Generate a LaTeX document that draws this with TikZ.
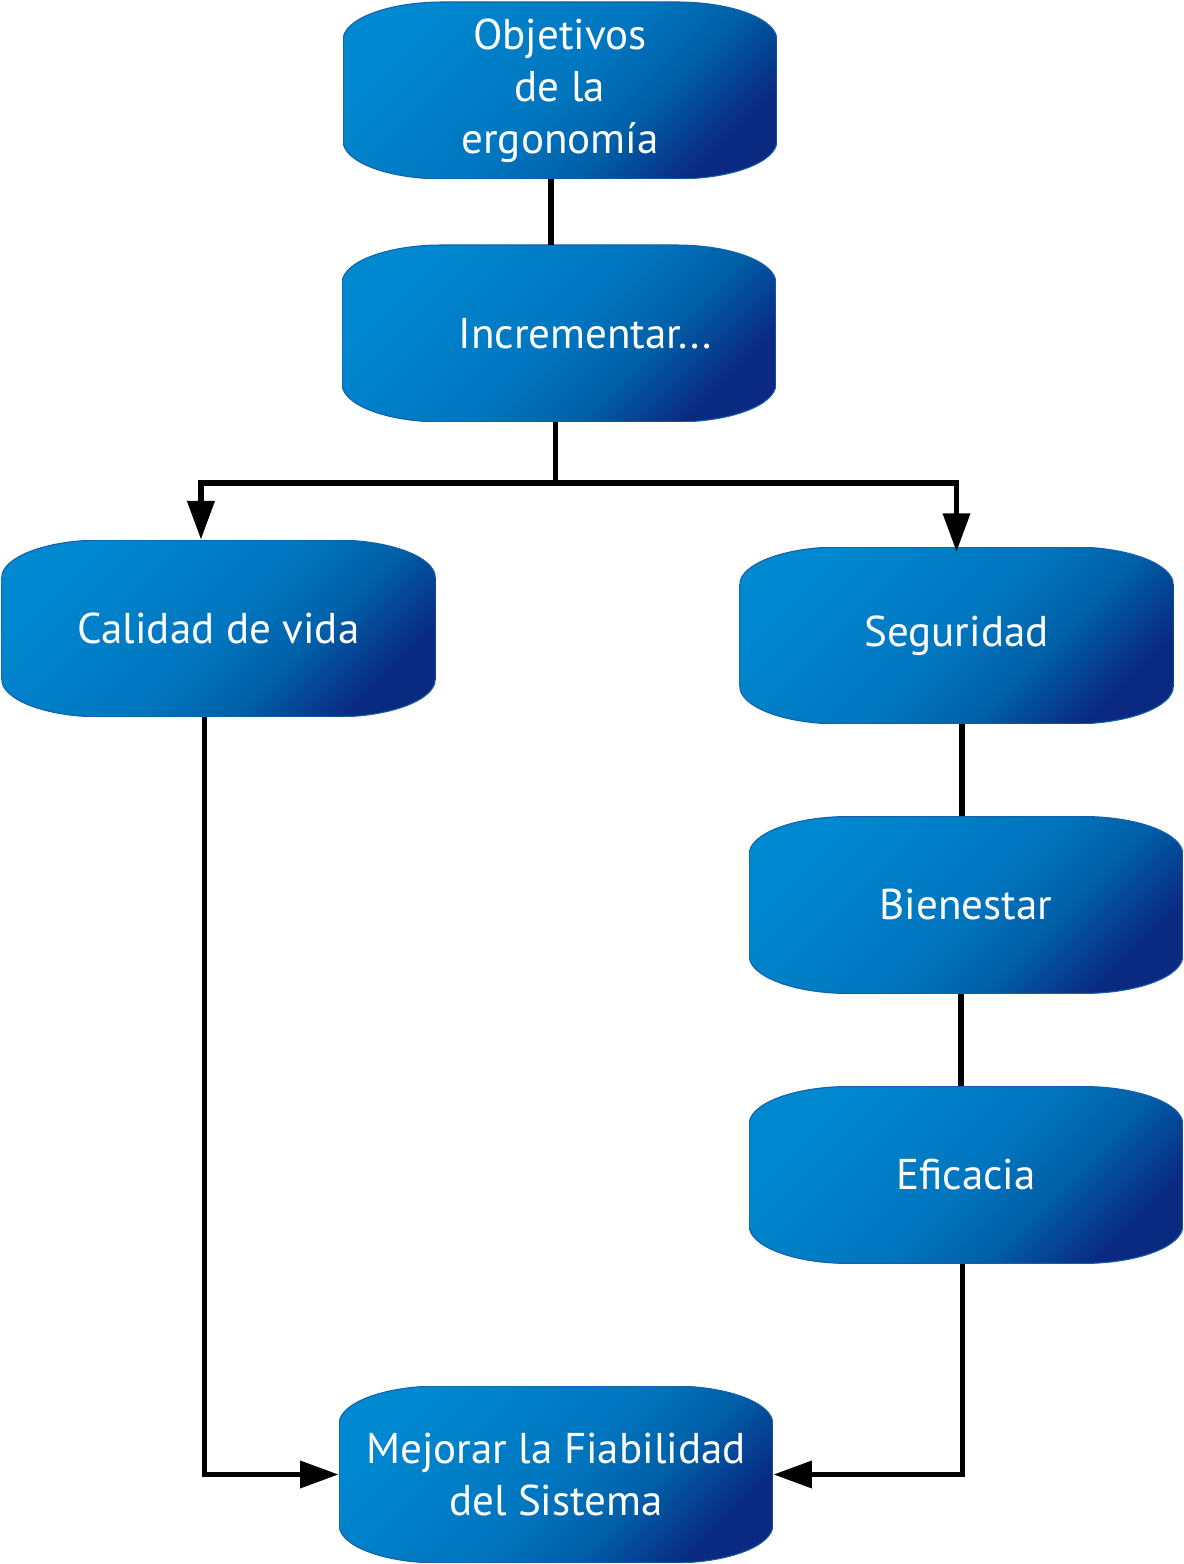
\documentclass[tikz,border=0pt]{standalone}
\usepackage{fontspec}
\newfontfamily\boxfont{PT Sans}
\usetikzlibrary{arrows.meta}

\definecolor{blobtop}{HTML}{0088D0}
\definecolor{blobmid}{HTML}{0076BF}
\definecolor{blobdeep}{HTML}{0060A8}
\definecolor{blobbot}{HTML}{0A2A82}
\definecolor{blobline}{HTML}{1560A8}
\pgfdeclarehorizontalshading{blobshade}{100bp}{color(0bp)=(blobtop); color(25bp)=(blobtop);
	color(50bp)=(blobmid); color(62bp)=(blobdeep); color(75bp)=(blobbot); color(100bp)=(blobbot)}

\tikzset{
	blob/.style={minimum width=8.68cm, minimum height=3.54cm, inner sep=0pt, text=white, align=center,
		font=\boxfont\fontsize{24.5}{29.5}\selectfont,
		path picture={
			\path[shading=blobshade, shading angle=-45, draw=blobline, line width=0.6pt]
				(path picture bounding box.south west) ++(0cm,0.76cm) -- ++(0cm,2.02cm)
				.. controls +(0cm,0.42cm) and +(-1.1cm,0cm) .. ++(2cm,0.76cm) -- ++(4.68cm,0cm)
				.. controls +(1.1cm,0cm) and +(0cm,0.42cm) .. ++(2cm,-0.76cm) -- ++(0cm,-2.02cm)
				.. controls +(0cm,-0.42cm) and +(1.1cm,0cm) .. ++(-2cm,-0.76cm) -- ++(-4.68cm,0cm)
				.. controls +(-1.1cm,0cm) and +(0cm,-0.42cm) .. ++(-2cm,0.76cm) -- cycle;}},
	link/.style={line width=3.3pt},
	arrow/.style={link, -{Triangle[length=22pt, width=15pt]}}
}

\begin{document}
\begin{tikzpicture}[x=0.02cm, y=0.02cm]
	\useasboundingbox (0,0) rectangle (1183,1564);
	% boxes
	\node[blob] (obj) at (560,1473.5) {Objetivos\\de la\\ergonomía};
	\node[blob] (incr) at (559,1230.5) {\hspace*{30pt}Incrementar...};
	\node[blob] (cal) at (218.5,935.5) {Calidad de vida};
	\node[blob] (seg) at (956.5,928.5) {Seguridad};
	\node[blob] (bien) at (966,659) {Bienestar};
	\node[blob] (efi) at (966,389) {Eficacia};
	\node[blob] (mej) at (556,89.5) {Mejorar la Fiabilidad\\del Sistema};
	% connectors
	\draw[link] ([xshift=-5pt]obj.south) -- ([xshift=-5pt]obj.south |- incr.north);
	\draw[arrow] ([xshift=-2pt]incr.south) -- ++(0,-61) -| ([xshift=-10pt]cal.north);
	\draw[arrow] ([xshift=-2pt]incr.south) -- ++(0,-61) -| ([yshift=-3pt]seg.north);
	\draw[link] ([xshift=3pt]seg.south) -- ([xshift=3pt]seg.south |- bien.north);
	\draw[link] ([xshift=-3pt]bien.south) -- ([xshift=-3pt]efi.north);
	\draw[arrow] ([xshift=-8pt]cal.south) |- (mej.west);
	\draw[arrow] ([xshift=-2pt]efi.south) |- (mej.east);
\end{tikzpicture}
\end{document}
